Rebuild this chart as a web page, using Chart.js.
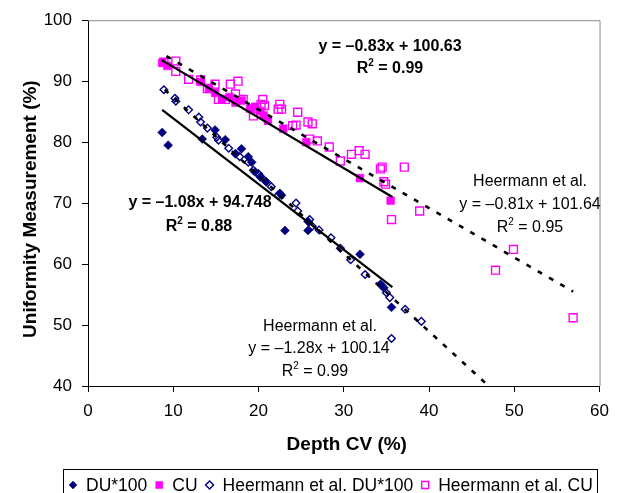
<!DOCTYPE html>
<html>
<head>
<meta charset="utf-8">
<script src="https://cdn.jsdelivr.net/npm/chart.js"></script>
<style>
    body { margin: 0; background: #fff; }
    #wrap { width: 618px; height: 493px; }
</style>
</head>
<body>
<div id="wrap"><canvas id="myScatter" width="618" height="493"></canvas></div>
<script>
// so lieu doc tu hinh
var duX = [8.7, 9.4, 13.4, 14.9, 16.1, 17.3, 18.0, 18.8, 19.2, 19.6, 20.2, 20.9, 22.5, 22.7, 23.1, 25.8, 25.8, 31.9, 34.3, 34.7, 35.6];
var duY = [81.6, 79.5, 80.5, 82.0, 80.4, 78.1, 78.9, 77.6, 76.7, 75.1, 74.3, 73.5, 71.6, 71.3, 65.5, 65.5, 67.0, 61.6, 56.7, 56.1, 52.9];

var cuX = [8.7, 9.3, 13.2, 14.2, 14.9, 15.7, 16.6, 17.3, 18.0, 19.0, 19.6, 20.2, 20.6, 21.1, 22.9, 25.6, 31.9, 35.5];
var cuY = [93.0, 92.5, 89.9, 88.8, 88.1, 87.0, 87.4, 86.5, 86.8, 85.5, 85.8, 85.1, 84.4, 83.5, 82.2, 80.0, 74.1, 70.4];

var hDuX = [8.9, 10.2, 10.3, 11.8, 13.0, 13.2, 14.0, 15.1, 15.3, 16.5, 17.3, 17.8, 18.8, 19.4, 20.0, 20.3, 20.9, 21.5, 22.3, 24.4, 24.6, 26.0, 26.3, 27.1, 28.5, 29.6, 30.8, 32.5, 34.5, 35.0, 35.4, 37.2, 39.1, 35.6];
var hDuY = [88.6, 87.2, 86.7, 85.3, 84.1, 83.3, 82.3, 80.8, 80.3, 79.0, 78.1, 77.6, 76.7, 75.4, 74.8, 74.3, 73.5, 72.7, 71.3, 70.0, 68.7, 67.3, 66.2, 65.6, 64.3, 62.6, 60.7, 58.3, 56.4, 55.3, 54.5, 52.6, 50.6, 47.8];

var hCuX = [8.9, 10.3, 10.3, 11.8, 13.2, 14.0, 14.9, 16.7, 17.6, 15.3, 16.1, 17.3, 18.2, 19.4, 19.4, 20.3, 20.5, 20.7, 22.5, 22.3, 22.7, 24.6, 24.0, 24.4, 25.8, 26.3, 26.0, 26.9, 28.3, 29.6, 30.9, 31.8, 32.5, 34.3, 34.5, 37.1, 34.7, 34.9, 38.9, 35.6, 49.9, 47.8, 56.9];
var hCuY = [93.1, 93.3, 91.6, 90.3, 90.2, 88.8, 89.5, 89.5, 90.0, 87.0, 87.0, 87.9, 87.0, 85.4, 84.3, 86.2, 87.0, 86.0, 86.2, 85.4, 85.4, 84.9, 82.7, 82.8, 83.3, 83.0, 80.5, 80.2, 79.2, 76.9, 78.0, 78.6, 78.0, 75.6, 75.9, 75.9, 73.5, 73.1, 68.7, 67.3, 62.4, 59.0, 51.2];

// duong xu huong (2 dau mut)
var duFitX = [8.7, 35.7];
var duFitY = [85.3, 56.2];
var cuFitX = [8.6, 35.7];
var cuFitY = [93.5, 71.0];
var hDuFitX = [9.0, 47.0];
var hDuFitY = [88.6, 40.0];
var hCuFitX = [9.2, 56.9];
var hCuFitY = [94.1, 55.5];

var xTicks = [0, 10, 20, 30, 40, 50, 60];
var yTicks = [40, 50, 60, 70, 80, 90, 100];

var seriesLabels = ['DU*100', 'CU', 'Heermann et al. DU*100', 'Heermann et al. CU'];

var FONT = '"Liberation Sans", Arial, Helvetica, sans-serif';
var NAVY = '#000080';
var MAGENTA = '#FF00FF';

function toPoints(xs, ys) {
    return xs.map(function (x, i) { return { x: x, y: ys[i] }; });
}

function drawR2(ctx, value, cx, y, size, bold) {
    var w = bold ? 'bold ' : '';
    var big = w + size + 'px ' + FONT;
    var small = w + Math.round(size * 0.62) + 'px ' + FONT;
    ctx.font = big;
    var wR = ctx.measureText('R').width;
    var wRest = ctx.measureText(' = ' + value).width;
    ctx.font = small;
    var w2 = ctx.measureText('2').width;
    var x = cx - (wR + w2 + wRest) / 2;
    ctx.textAlign = 'left';
    ctx.font = big;
    ctx.fillText('R', x, y);
    ctx.font = small;
    ctx.fillText('2', x + wR, y - size * 0.42);
    ctx.font = big;
    ctx.fillText(' = ' + value, x + wR + w2, y);
}

function drawCenter(ctx, text, cx, y, font) {
    ctx.font = font;
    ctx.textAlign = 'center';
    ctx.fillText(text, cx, y);
}

var extraDraw = {
    id: 'extraDraw',
    beforeDatasetsDraw: function (chart) {
        var a = chart.chartArea;
        var ctx = chart.ctx;
        ctx.save();
        ctx.strokeStyle = '#8c8c8c';
        ctx.lineWidth = 1;
        ctx.beginPath();
        ctx.moveTo(a.left, a.top + 0.5);
        ctx.lineTo(a.right + 0.5, a.top + 0.5);
        ctx.lineTo(a.right + 0.5, a.bottom);
        ctx.stroke();
        ctx.restore();
    },
    afterDraw: function (chart) {
        var ctx = chart.ctx;
        var a = chart.chartArea;
        ctx.save();
        ctx.fillStyle = '#000';
        ctx.textBaseline = 'alphabetic';

        // tieu de truc
        drawCenter(ctx, 'Depth CV (%)', (a.left + a.right) / 2 + 3, 450, 'bold 19px ' + FONT);
        ctx.save();
        ctx.translate(36, (a.top + a.bottom) / 2 + 6);
        ctx.rotate(-Math.PI / 2);
        drawCenter(ctx, 'Uniformity Measurement (%)', 0, 0, 'bold 19px ' + FONT);
        ctx.restore();

        // phuong trinh
        drawCenter(ctx, 'y = –0.83x + 100.63', 390, 51, 'bold 16px ' + FONT);
        drawR2(ctx, '0.99', 390, 73, 16, true);
        drawCenter(ctx, 'y = –1.08x + 94.748', 200, 207, 'bold 16px ' + FONT);
        drawR2(ctx, '0.88', 199, 231, 16, true);

        drawCenter(ctx, 'Heermann et al.', 320, 331, '16px ' + FONT);
        drawCenter(ctx, 'y = –1.28x + 100.14', 319, 353, '16px ' + FONT);
        drawR2(ctx, '0.99', 315, 376, 16, false);

        drawCenter(ctx, 'Heermann et al.', 530, 186, '16px ' + FONT);
        drawCenter(ctx, 'y = –0.81x + 101.64', 530, 209, '16px ' + FONT);
        drawR2(ctx, '0.95', 530, 232, 16, false);

        // chu thich
        ctx.strokeStyle = '#000';
        ctx.lineWidth = 1;
        ctx.strokeRect(63.5, 469.5, 534, 40);
        var lx = 73;
        var ly = 485;
        ctx.font = '17.5px ' + FONT;
        ctx.textAlign = 'left';
        ctx.textBaseline = 'middle';
        for (var i = 0; i < 4; i++) {
            var ds = chart.data.datasets[i];
            ctx.fillStyle = ds.backgroundColor;
            ctx.strokeStyle = ds.borderColor;
            ctx.lineWidth = ds.borderWidth;
            Chart.helpers.drawPoint(ctx, {
                pointStyle: ds.pointStyle,
                radius: ds.legendRadius,
                rotation: 0,
                borderWidth: ds.borderWidth
            }, lx, ly);
            ctx.fillStyle = '#000';
            ctx.fillText(ds.label, lx + 13, ly + 1);
            lx = lx + 13 + ctx.measureText(ds.label).width + 12;
        }
        ctx.restore();
    }
};

function trendSet(xs, ys, dashed) {
    return {
        type: 'line',
        label: '',
        data: toPoints(xs, ys),
        borderColor: '#000',
        borderWidth: dashed ? 2.6 : 2.2,
        borderDash: dashed ? [5, 8] : [],
        pointRadius: 0,
        fill: false,
        order: 0
    };
}

function buildScatter() {
    var ctx = document.getElementById('myScatter').getContext('2d');
    new Chart(ctx, {
        type: 'scatter',
        data: {
            datasets: [
                {
                    label: seriesLabels[0],
                    data: toPoints(duX, duY),
                    pointStyle: 'rectRot',
                    pointRadius: 4.5,
                    legendRadius: 4,
                    backgroundColor: NAVY,
                    borderColor: NAVY,
                    borderWidth: 0.5,
                    order: 1
                },
                {
                    label: seriesLabels[1],
                    data: toPoints(cuX, cuY),
                    pointStyle: 'rect',
                    pointRadius: 5.5,
                    legendRadius: 5,
                    backgroundColor: MAGENTA,
                    borderColor: MAGENTA,
                    borderWidth: 0.5,
                    order: 2
                },
                {
                    label: seriesLabels[2],
                    data: toPoints(hDuX, hDuY),
                    pointStyle: 'rectRot',
                    pointRadius: 3.8,
                    legendRadius: 4,
                    backgroundColor: 'rgba(0,0,0,0)',
                    borderColor: NAVY,
                    borderWidth: 1.4,
                    order: 3
                },
                {
                    label: seriesLabels[3],
                    data: toPoints(hCuX, hCuY),
                    pointStyle: 'rect',
                    pointRadius: 5.6,
                    legendRadius: 5,
                    backgroundColor: 'rgba(0,0,0,0)',
                    borderColor: MAGENTA,
                    borderWidth: 1.4,
                    order: 4
                },
                trendSet(duFitX, duFitY, false),
                trendSet(cuFitX, cuFitY, false),
                trendSet(hDuFitX, hDuFitY, true),
                trendSet(hCuFitX, hCuFitY, true)
            ]
        },
        options: {
            responsive: false,
            animation: false,
            layout: { padding: { left: 0, right: 13, top: 17, bottom: 0 } },
            plugins: {
                legend: { display: false },
                tooltip: { enabled: false }
            },
            scales: {
                x: {
                    type: 'linear',
                    min: 0,
                    max: 60,
                    afterBuildTicks: function (scale) {
                        scale.ticks = xTicks.map(function (v) { return { value: v }; });
                    },
                    afterFit: function (scale) { scale.height = 107; },
                    grid: { drawOnChartArea: false, color: '#000', tickLength: 6 },
                    border: { color: '#000', width: 1 },
                    ticks: { color: '#000', padding: 9, font: { family: FONT, size: 17 }, maxRotation: 0 }
                },
                y: {
                    type: 'linear',
                    min: 40,
                    max: 100,
                    afterBuildTicks: function (scale) {
                        scale.ticks = yTicks.map(function (v) { return { value: v }; });
                    },
                    afterFit: function (scale) { scale.width = 88; },
                    grid: { drawOnChartArea: false, color: '#000', tickLength: 6 },
                    border: { color: '#000', width: 1 },
                    ticks: { color: '#000', padding: 10, font: { family: FONT, size: 17 } }
                }
            }
        },
        plugins: [extraDraw]
    });
}

buildScatter();
</script>
</body>
</html>
